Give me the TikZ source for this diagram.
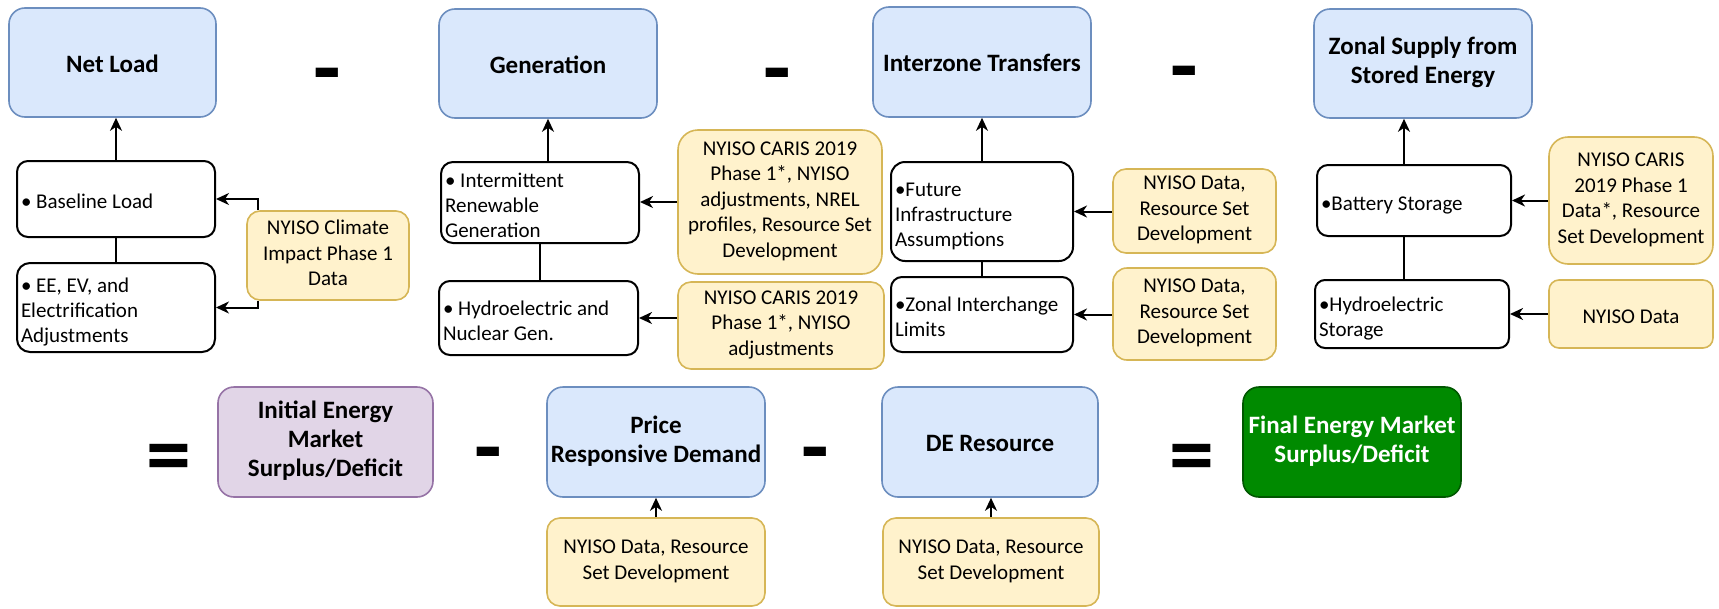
\documentclass[tikz,border=0pt]{standalone}
\usepackage{fontspec}
\setmainfont{Carlito}
\usetikzlibrary{arrows.meta}
\definecolor{bfill}{HTML}{DAE8FC}
\definecolor{bdraw}{HTML}{6C8EBF}
\definecolor{yfill}{HTML}{FFF2CC}
\definecolor{ydraw}{HTML}{D6B656}
\definecolor{pfill}{HTML}{E1D5E7}
\definecolor{pdraw}{HTML}{9673A6}
\definecolor{gfill}{HTML}{008A00}
\definecolor{gdraw}{HTML}{005700}
\begin{document}
\begin{tikzpicture}[x=1pt,y=-1pt,
  titlebox/.style={rectangle, draw=bdraw, fill=bfill, line width=1.6pt, inner sep=0pt, align=center,
    font=\fontsize{25}{29}\selectfont\bfseries,
    execute at begin node={\rule{0pt}{25pt}}, execute at end node={\rule[-6pt]{0pt}{6pt}}},
  initbox/.style={titlebox, draw=pdraw, fill=pfill},
  finalbox/.style={titlebox, draw=gdraw, fill=gfill, text=white},
  srcbox/.style={rectangle, draw=ydraw, fill=yfill, line width=1.6pt, inner sep=0pt, align=center,
    font=\fontsize{21}{25.5}\selectfont,
    execute at begin node={\rule{0pt}{24.5pt}}, execute at end node={\rule[-5pt]{0pt}{5pt}}},
  itembox/.style={rectangle, draw=black, fill=white, line width=2pt, inner xsep=4pt, inner ysep=0pt,
    align=flush left, font=\fontsize{21}{25}\selectfont,
    execute at begin node={\rule{0pt}{24.5pt}}, execute at end node={\rule[-5pt]{0pt}{5pt}}},
  sign/.style={inner sep=0pt, font=\fontsize{90}{90}\selectfont\bfseries},
  arr/.style={-{Stealth[length=13pt,width=12pt,inset=4pt]}, line width=2pt},
  link/.style={line width=2pt}]
\useasboundingbox (0,0) rectangle (1719,608);

% top row titles
\node[titlebox, minimum width=207pt, minimum height=109pt, rounded corners=16pt] (netload) at (112.5,62.5) {Net Load};
\node[titlebox, minimum width=218pt, minimum height=109pt, rounded corners=16pt] (gen) at (548,63.5) {Generation};
\node[titlebox, minimum width=218pt, minimum height=110pt, rounded corners=16pt] (inter) at (982,62) {Interzone Transfers};
\node[titlebox, minimum width=218pt, minimum height=109pt, rounded corners=16pt] (zonal) at (1423,63.5) {Zonal Supply from\\Stored Energy};

% signs top
\node[sign] (m1) at (327,83) {-};
\node[sign] (m2) at (777,83) {-};
\node[sign] (m3) at (1184,81) {-};

% item boxes
\node[itembox, text width=190pt, minimum height=76pt, rounded corners=11pt] (base) at (116,199) {• Baseline Load};
\node[itembox, text width=190pt, minimum height=89pt, rounded corners=13pt] (ee) at (116,307.5) {• EE, EV, and\\Electrification\\Adjustments};
\node[itembox, text width=190pt, minimum height=81pt, rounded corners=12pt] (ren) at (540,202.5) {• Intermittent\\Renewable\\Generation};
\node[itembox, text width=191pt, minimum height=74pt, rounded corners=11pt] (hydro) at (538.5,318) {• Hydroelectric and\\Nuclear Gen.};
\node[itembox, text width=174pt, minimum height=99pt, rounded corners=14pt] (future) at (982,211.5) {•Future\\Infrastructure\\Assumptions};
\node[itembox, text width=174pt, minimum height=75pt, rounded corners=11pt] (zil) at (982,314.5) {•Zonal Interchange\\Limits};
\node[itembox, text width=186pt, minimum height=71pt, rounded corners=11pt] (battery) at (1414,200.5) {•Battery Storage};
\node[itembox, text width=186pt, minimum height=68pt, rounded corners=10pt] (hstor) at (1412,314) {•Hydroelectric\\Storage};

% source boxes
\node[srcbox, minimum width=162pt, minimum height=89pt, rounded corners=13pt] (s1) at (328,255.5) {NYISO Climate\\Impact Phase 1\\Data};
\node[srcbox, minimum width=204pt, minimum height=144pt, rounded corners=20pt] (s2) at (780,202) {NYISO CARIS 2019\\Phase 1*, NYISO\\adjustments, NREL\\profiles, Resource Set\\Development};
\node[srcbox, minimum width=206pt, minimum height=87pt, rounded corners=13pt] (s3) at (781,325.5) {NYISO CARIS 2019\\Phase 1*, NYISO\\adjustments};
\node[srcbox, minimum width=163pt, minimum height=84pt, rounded corners=13pt] (s4) at (1194.5,211) {NYISO Data,\\Resource Set\\Development};
\node[srcbox, minimum width=163pt, minimum height=92pt, rounded corners=14pt] (s5) at (1194.5,314) {NYISO Data,\\Resource Set\\Development};
\node[srcbox, minimum width=164pt, minimum height=127pt, rounded corners=19pt] (s6) at (1631,200.5) {NYISO CARIS\\2019 Phase 1\\Data*, Resource\\Set Development};
\node[srcbox, minimum width=164pt, minimum height=68pt, rounded corners=10pt] (s7) at (1631,314) {NYISO Data};
\node[srcbox, minimum width=218pt, minimum height=88pt, rounded corners=13pt] (s8) at (656,562) {NYISO Data, Resource\\Set Development};
\node[srcbox, minimum width=216pt, minimum height=88pt, rounded corners=13pt] (s9) at (991,562) {NYISO Data, Resource\\Set Development};

% bottom row
\node[sign] (e1) at (169,464) {=};
\node[initbox, minimum width=215pt, minimum height=110pt, rounded corners=16pt] (init) at (325.5,442) {Initial Energy\\Market\\Surplus/Deficit};
\node[sign] (m4) at (488,462) {-};
\node[titlebox, minimum width=218pt, minimum height=110pt, rounded corners=16pt] (prd) at (656,442) {Price\\Responsive Demand};
\node[sign] (m5) at (815,462) {-};
\node[titlebox, minimum width=216pt, minimum height=110pt, rounded corners=16pt] (de) at (990,442) {DE Resource};
\node[sign] (e2) at (1192,464) {=};
\node[finalbox, minimum width=218pt, minimum height=110pt, rounded corners=16pt] (final) at (1352,442) {Final Energy Market\\Surplus/Deficit};

% connectors: net load
\draw[arr] (base.north) -- (base.north |- netload.south);
\draw[link] (base.south) -- (ee.north);
\draw[arr] ([xshift=12pt]s1.north west) |- (base.east);
\draw[arr] ([xshift=12pt]s1.south west) |- (ee.east);

% generation
\draw[arr] (ren.north -| gen.south) -- (gen.south);
\draw[link] (ren.south) -- (ren.south |- hydro.north);
\draw[arr] (s2.west) -- (s2.west -| ren.east);
\draw[arr] (s3.west |- hydro.east) -- (hydro.east);

% interzone
\draw[arr] (future.north) -- (future.north |- inter.south);
\draw[link] (future.south) -- (zil.north);
\draw[arr] (s4.west |- future.east) -- (future.east);
\draw[arr] (s5.west |- zil.east) -- (zil.east);

% storage
\coordinate (bt) at ([xshift=-10pt]battery.north);
\coordinate (bb) at ([xshift=-10pt]battery.south);
\draw[arr] (bt) -- (bt |- zonal.south);
\draw[link] (bb) -- (bb |- hstor.north);
\draw[arr] (s6.west |- battery.east) -- (battery.east);
\draw[arr] (s7.west) -- (s7.west -| hstor.east);

% bottom
\draw[arr] (s8.north) -- (prd.south);
\draw[arr] (s9.north) -- (s9.north |- de.south);
\end{tikzpicture}
\end{document}
